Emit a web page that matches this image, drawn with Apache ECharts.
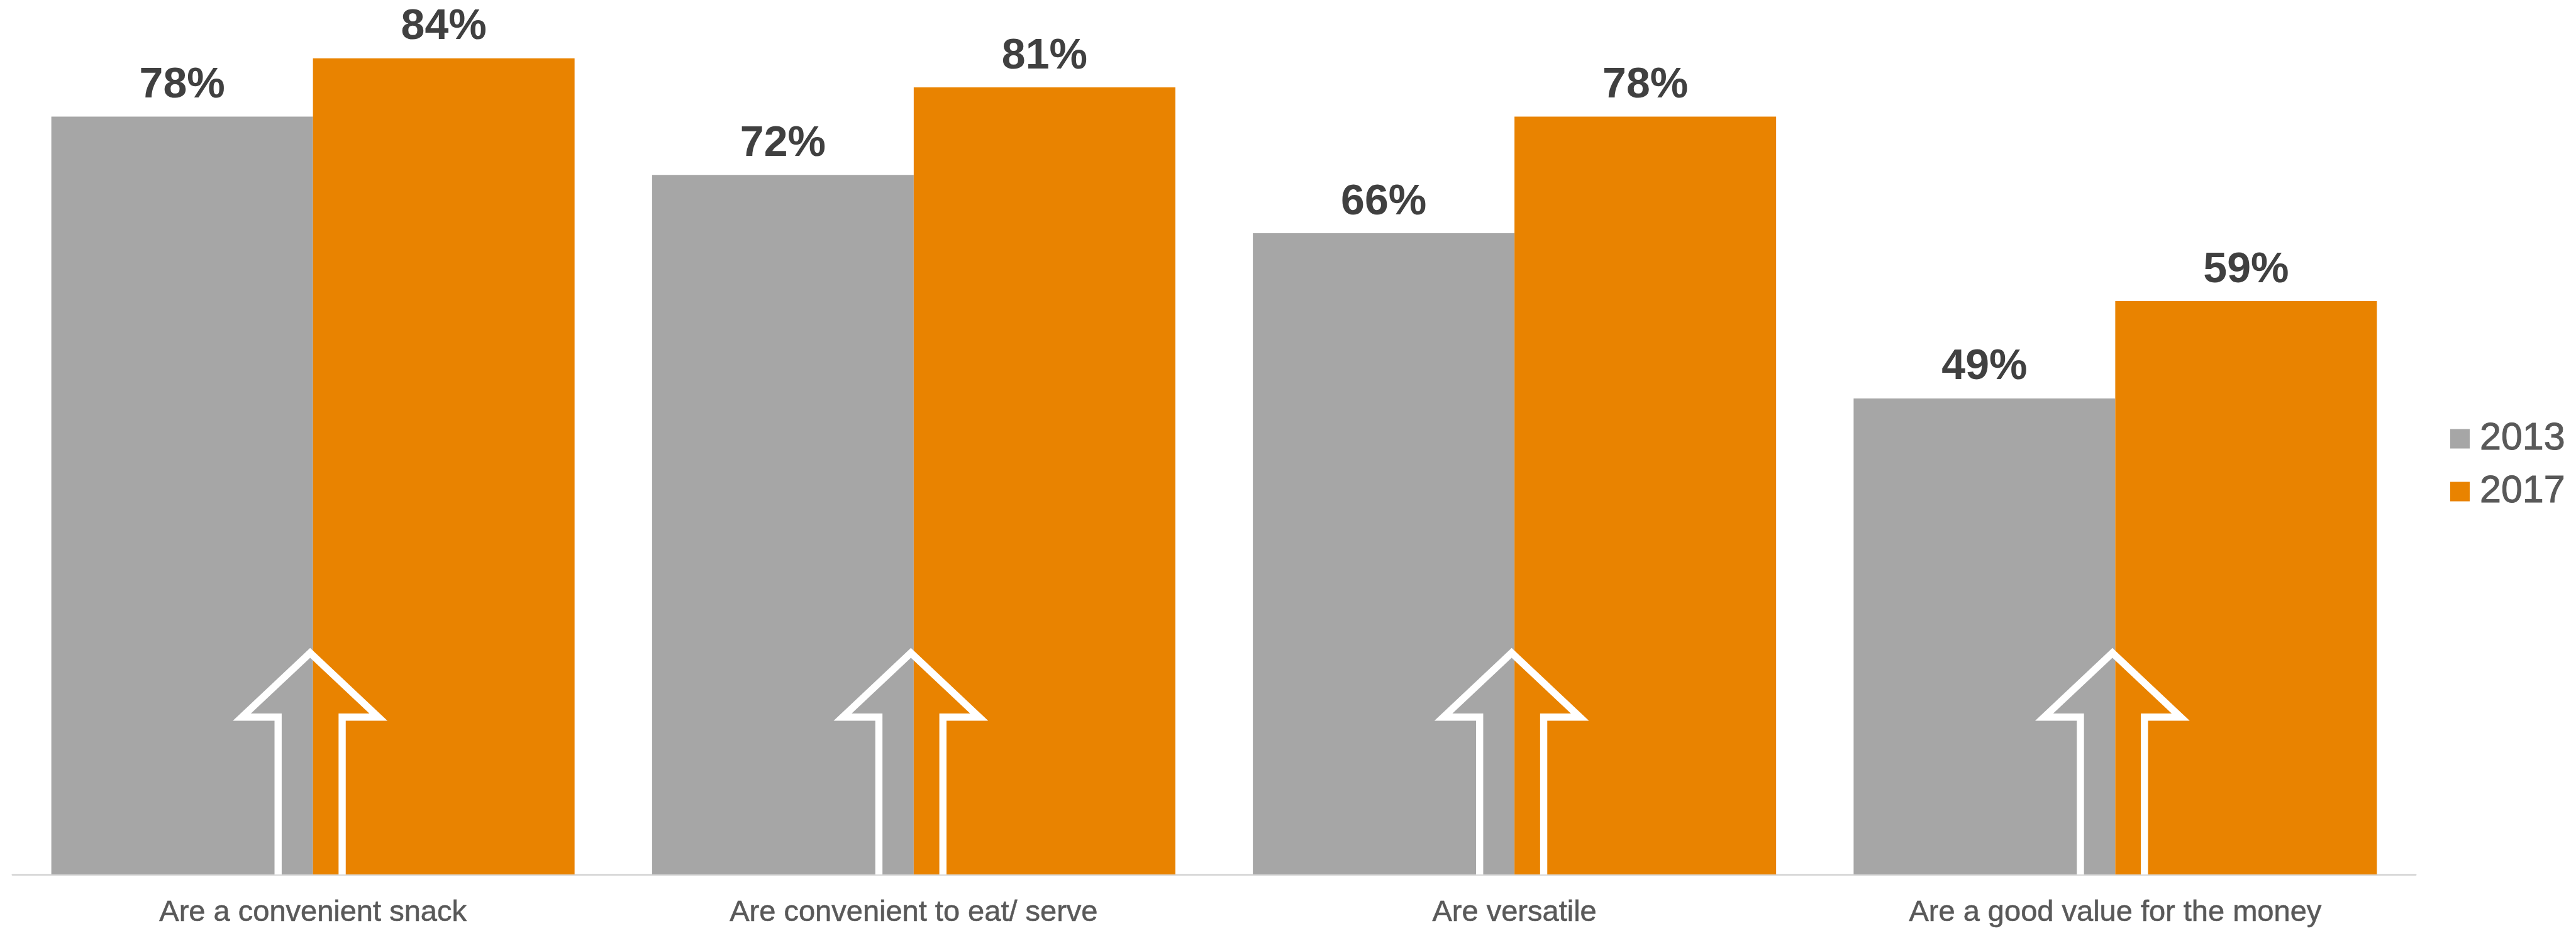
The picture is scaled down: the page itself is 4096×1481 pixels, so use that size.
<!DOCTYPE html>
<html>
<head>
<meta charset="utf-8">
<script src="https://cdn.jsdelivr.net/npm/echarts@6/dist/echarts.min.js"></script>
<style>
html,body{margin:0;padding:0;background:#fff;}
#chart{width:4096px;height:1481px;}
</style>
</head>
<body>
<div id="chart"></div>
<script>
const categories = ['Are a convenient snack', 'Are convenient to eat/ serve', 'Are versatile', 'Are a good value for the money'];
const seriesNames = ['2013', '2017'];
const values2013 = [78, 72, 66, 49];
const values2017 = [84, 81, 78, 59];

const FONT = '"Liberation Sans", Arial, sans-serif';
const chart = echarts.init(document.getElementById('chart'), null, {renderer: 'canvas'});

function arrowItem(params, api) {
  const base = api.coord([api.value(0), 0]);
  const bw = api.size([1, 0])[0];
  const cx = base[0] - bw * 0.0047;
  const by = base[1];
  const sw = bw * 0.0533;
  const hw = bw * 0.1136;
  const hb = bw * 0.262;
  const tip = bw * 0.369;
  return {
    type: 'polyline',
    shape: {
      points: [
        [cx - sw, by], [cx - sw, by - hb], [cx - hw, by - hb],
        [cx, by - tip],
        [cx + hw, by - hb], [cx + sw, by - hb], [cx + sw, by]
      ]
    },
    style: {stroke: '#ffffff', lineWidth: 11.4, fill: null, lineJoin: 'miter', miterLimit: 10},
    z2: 100
  };
}

const labelStyle = {
  show: true,
  position: 'top',
  distance: 15,
  formatter: '{c}%',
  fontSize: 68,
  fontWeight: 'bold',
  fontFamily: FONT,
  color: '#404040'
};

chart.setOption({
  animation: false,
  backgroundColor: '#ffffff',
  grid: {left: 20, right: 255, top: 0, bottom: 90, containLabel: false},
  legend: {
    data: seriesNames,
    orient: 'vertical',
    left: 3891,
    top: 662,
    itemWidth: 31,
    itemHeight: 31,
    itemGap: 22,
    icon: 'rect',
    textStyle: {fontSize: 61, fontFamily: FONT, color: '#595959', padding: [0, 0, 0, 11],
      textBorderColor: '#595959', textBorderWidth: 1}
  },
  xAxis: {
    type: 'category',
    data: categories,
    axisLine: {show: true, lineStyle: {color: '#d9d9d9', width: 3}},
    axisTick: {show: false},
    axisLabel: {fontSize: 47, fontFamily: FONT, color: '#595959', margin: 38, interval: 0,
      textBorderColor: '#595959', textBorderWidth: 0.6}
  },
  yAxis: {
    type: 'value',
    min: 0,
    max: 90,
    show: false,
    splitLine: {show: false}
  },
  series: [
    {
      name: seriesNames[0],
      type: 'bar',
      data: values2013,
      barGap: '0%',
      barCategoryGap: '12.9%',
      itemStyle: {color: '#A6A6A6'},
      label: labelStyle
    },
    {
      name: seriesNames[1],
      type: 'bar',
      data: values2017,
      barGap: '0%',
      barCategoryGap: '12.9%',
      itemStyle: {color: '#E98300'},
      label: labelStyle
    },
    {
      name: 'arrows',
      type: 'custom',
      data: categories.map((c, i) => [i, 0]),
      encode: {x: 0, y: 1},
      renderItem: arrowItem,
      z: 10,
      silent: true
    }
  ]
});
</script>
</body>
</html>
